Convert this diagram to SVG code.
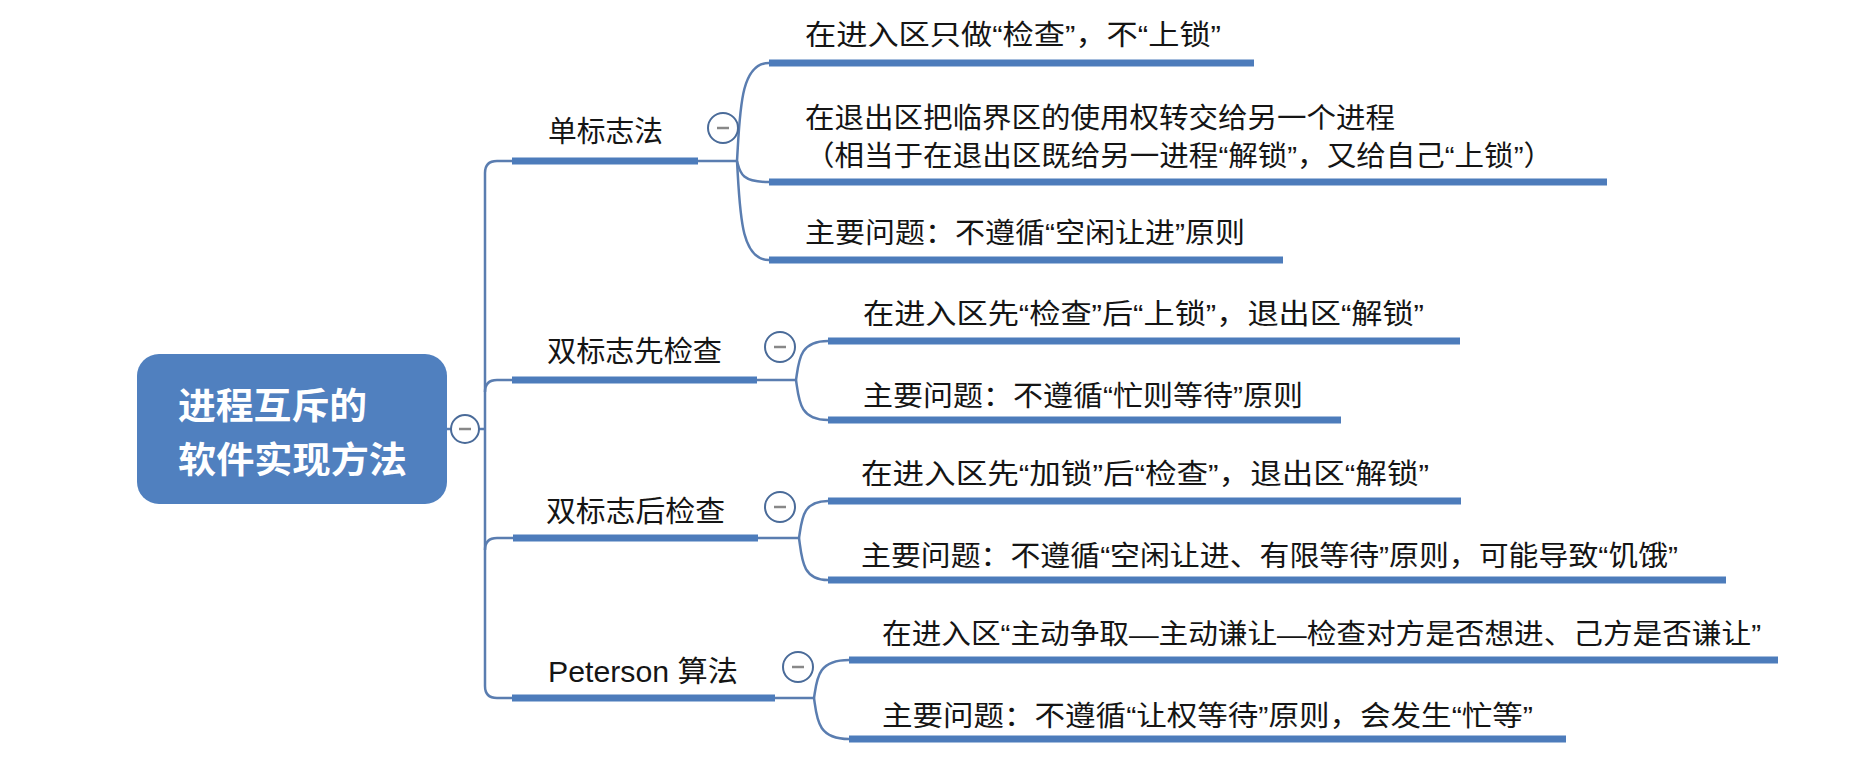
<svg xmlns="http://www.w3.org/2000/svg" width="1869" height="763" viewBox="0 0 1869 763">
<style>
.bg{fill:#ffffff}
.bar{stroke:#4d7cbb;stroke-width:7;stroke-linecap:butt}
.ln{fill:none;stroke:#5a7db0;stroke-width:2.5}
.t{font-family:"Liberation Sans","Noto Sans CJK SC",sans-serif;font-size:28px;fill:#151515}
.bt{font-family:"Liberation Sans","Noto Sans CJK SC",sans-serif;font-size:29px;fill:#151515}
.rt{font-family:"Liberation Sans","Noto Sans CJK SC",sans-serif;font-size:36px;font-weight:bold;fill:#ffffff}
.col circle{fill:#ffffff;stroke:#4a6b99;stroke-width:2}
.col line{stroke:#888888;stroke-width:2.5}
</style>
<rect class="bg" x="0" y="0" width="1869" height="763"/>
<g id="connectors">
<path class="ln" d="M447 429 H451"/>
<path class="ln" d="M479 429 H485"/>
<path class="ln" d="M512 161 H497 Q485 161 485 173 V686 Q485 698 497 698 H513"/>
<path class="ln" d="M485 392 Q485 380 497 380 H512"/>
<path class="ln" d="M485 550 Q485 538 497 538 H513"/>
<path class="ln" d="M698 161 H737"/>
<path class="ln" d="M737 161 C740 112 740 63 769 63"/>
<path class="ln" d="M737 161 C740 171.5 740 182 769 182"/>
<path class="ln" d="M737 161 C740 210.5 740 260 769 260"/>
<path class="ln" d="M757 380 H796"/>
<path class="ln" d="M796 380 C799 360.5 799 341 828 341"/>
<path class="ln" d="M796 380 C799 400 799 420 828 420"/>
<path class="ln" d="M758 538 H799"/>
<path class="ln" d="M799 538 C802 519.5 802 501 828 501"/>
<path class="ln" d="M799 538 C802 559 802 580 828 580"/>
<path class="ln" d="M775 698 H814"/>
<path class="ln" d="M814 698 C817 679 817 660 849 660"/>
<path class="ln" d="M814 698 C817 718.5 817 739 849 739"/>
</g>
<g id="root">
<rect x="137" y="354" width="310" height="150" rx="22" ry="22" fill="#5080bf"/>
<text class="rt" x="178" y="419" textLength="189" lengthAdjust="spacingAndGlyphs">进程互斥的</text>
<text class="rt" x="178" y="473" textLength="229" lengthAdjust="spacingAndGlyphs">软件实现方法</text>
<g class="col"><circle cx="465" cy="429" r="14"/><line x1="459" y1="429" x2="471" y2="429"/></g>
</g>
<g id="n-single-flag">
<text class="bt" x="548" y="142" textLength="115" lengthAdjust="spacingAndGlyphs">单标志法</text>
<line class="bar" x1="512" y1="161" x2="698" y2="161"/>
<g class="col"><circle cx="723" cy="128" r="15"/><line x1="717" y1="128" x2="729" y2="128"/></g>
</g>
<g id="n-single-1">
<text class="t" x="805" y="45" textLength="416" lengthAdjust="spacingAndGlyphs">在进入区只做“检查”，不“上锁”</text>
<line class="bar" x1="769" y1="63" x2="1254" y2="63"/>
</g>
<g id="n-single-2">
<text class="t" x="805" y="128" textLength="590" lengthAdjust="spacingAndGlyphs">在退出区把临界区的使用权转交给另一个进程</text>
<text class="t" x="805" y="166" textLength="748" lengthAdjust="spacingAndGlyphs">（相当于在退出区既给另一进程“解锁”，又给自己“上锁”）</text>
<line class="bar" x1="769" y1="182" x2="1607" y2="182"/>
</g>
<g id="n-single-3">
<text class="t" x="805" y="243" textLength="440" lengthAdjust="spacingAndGlyphs">主要问题：不遵循“空闲让进”原则</text>
<line class="bar" x1="769" y1="260" x2="1283" y2="260"/>
</g>
<g id="n-dual-first">
<text class="bt" x="547" y="362" textLength="175" lengthAdjust="spacingAndGlyphs">双标志先检查</text>
<line class="bar" x1="512" y1="380" x2="757" y2="380"/>
<g class="col"><circle cx="780" cy="347" r="15"/><line x1="774" y1="347" x2="786" y2="347"/></g>
</g>
<g id="n-dual-first-1">
<text class="t" x="863" y="324" textLength="561" lengthAdjust="spacingAndGlyphs">在进入区先“检查”后“上锁”，退出区“解锁”</text>
<line class="bar" x1="828" y1="341" x2="1460" y2="341"/>
</g>
<g id="n-dual-first-2">
<text class="t" x="863" y="406" textLength="440" lengthAdjust="spacingAndGlyphs">主要问题：不遵循“忙则等待”原则</text>
<line class="bar" x1="828" y1="420" x2="1341" y2="420"/>
</g>
<g id="n-dual-after">
<text class="bt" x="546" y="522" textLength="179" lengthAdjust="spacingAndGlyphs">双标志后检查</text>
<line class="bar" x1="513" y1="538" x2="758" y2="538"/>
<g class="col"><circle cx="780" cy="507" r="15"/><line x1="774" y1="507" x2="786" y2="507"/></g>
</g>
<g id="n-dual-after-1">
<text class="t" x="861" y="484" textLength="568" lengthAdjust="spacingAndGlyphs">在进入区先“加锁”后“检查”，退出区“解锁”</text>
<line class="bar" x1="828" y1="501" x2="1461" y2="501"/>
</g>
<g id="n-dual-after-2">
<text class="t" x="861" y="566" textLength="817" lengthAdjust="spacingAndGlyphs">主要问题：不遵循“空闲让进、有限等待”原则，可能导致“饥饿”</text>
<line class="bar" x1="828" y1="580" x2="1726" y2="580"/>
</g>
<g id="n-peterson">
<text class="bt" x="548" y="682" textLength="190" lengthAdjust="spacingAndGlyphs">Peterson 算法</text>
<line class="bar" x1="512" y1="698" x2="775" y2="698"/>
<g class="col"><circle cx="798" cy="667" r="15"/><line x1="792" y1="667" x2="804" y2="667"/></g>
</g>
<g id="n-peterson-1">
<text class="t" x="882" y="644" textLength="879" lengthAdjust="spacingAndGlyphs">在进入区“主动争取—主动谦让—检查对方是否想进、己方是否谦让”</text>
<line class="bar" x1="849" y1="660" x2="1778" y2="660"/>
</g>
<g id="n-peterson-2">
<text class="t" x="882" y="726" textLength="651" lengthAdjust="spacingAndGlyphs">主要问题：不遵循“让权等待”原则，会发生“忙等”</text>
<line class="bar" x1="849" y1="739" x2="1566" y2="739"/>
</g>
</svg>
